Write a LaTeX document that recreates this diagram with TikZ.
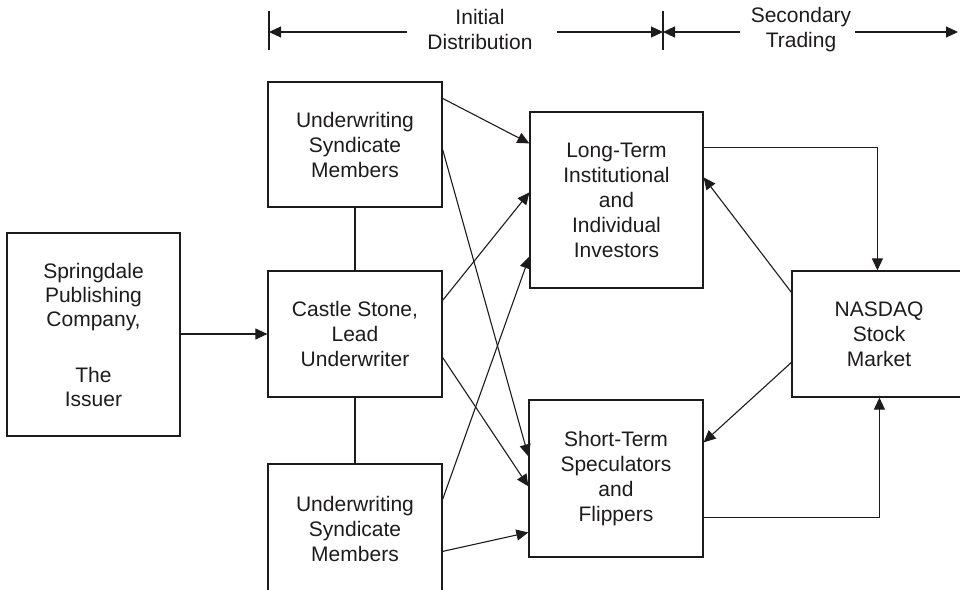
\documentclass[tikz,border=0pt]{standalone}
\usepackage{fontspec}
\setmainfont{Liberation Sans}
\usetikzlibrary{arrows.meta}
\definecolor{ink}{RGB}{30,27,28}
\begin{document}
\begin{tikzpicture}[x=1pt,y=-1pt,
  every node/.style={text=ink, align=center, font=\fontsize{21}{25}\selectfont},
  box/.style={draw=ink, line width=1.2pt, rectangle, inner sep=0pt},
  link/.style={draw=ink, line width=1.1pt},
  flow/.style={link, -{Triangle[length=12pt,width=11pt]}}]
\useasboundingbox (0,0) rectangle (960,589);
\clip (0,0) rectangle (960,589);

% phase markers across the top
\coordinate (barA1) at (269,11);
\coordinate (barA2) at (269,50);
\coordinate (barB1) at (663,11);
\coordinate (barB2) at (663,50);
\draw[link] (barA1) -- (barA2);
\draw[link] (barB1) -- (barB2);
\node (hd1) at (480,29.5) {Initial\\Distribution};
\node (hd2) at (801,29.5) {Secondary\\Trading};
\coordinate (h1l) at (407,32);
\coordinate (h1r) at (557,32);
\coordinate (h2l) at (740,32);
\coordinate (h2r) at (855,32);
\coordinate (h2end) at (958,32);
\draw[flow] (h1l) -- (barA1 |- h1l);
\draw[flow] (h1r) -- (barB1 |- h1r);
\draw[flow] (h2l) -- (barB1 |- h2l);
\draw[flow] (h2r) -- (h2end);

% boxes
\node[box, minimum width=173pt, minimum height=203pt, font=\fontsize{21}{24}\selectfont] (spr) at (93.5,334.5)
  {Springdale\\Publishing\\Company,\\[32pt]The\\Issuer};
\node[box, minimum width=174pt, minimum height=125pt] (tuw) at (355,144.5) {Underwriting\\Syndicate\\Members};
\node[box, minimum width=174pt, minimum height=126pt] (cas) at (355,334) {Castle Stone,\\Lead\\Underwriter};
\node[box, minimum width=174pt, minimum height=129pt] (buw) at (355,528.5) {Underwriting\\Syndicate\\Members};
\node[box, minimum width=173pt, minimum height=176pt] (lt) at (616.5,200) {Long-Term\\Institutional\\and\\Individual\\Investors};
\node[box, minimum width=174pt, minimum height=157pt] (st) at (616,478.5) {Short-Term\\Speculators\\and\\Flippers};
\node[box, minimum width=174pt, minimum height=126pt] (nas) at (879,334) {NASDAQ\\Stock\\Market};

% issuer to lead underwriter, and the syndicate ties
\draw[flow] (spr.east |- cas.west) -- (cas.west);
\draw[link] (tuw.south) -- (cas.north);
\draw[link] (cas.south) -- (buw.north);

% initial distribution
\draw[flow] ([yshift=-17pt]tuw.north east) -- ([yshift=-32pt]lt.north west);
\draw[flow] ([yshift=-68pt]tuw.north east) -- ([yshift=-57pt]st.north west);
\draw[flow] ([yshift=-30pt]cas.north east) -- ([yshift=-81pt]lt.north west);
\draw[flow] ([yshift=-87pt]cas.north east) -- ([yshift=-87pt]st.north west);
\draw[flow] ([yshift=-36pt]buw.north east) -- ([yshift=-145pt]lt.north west);
\draw[flow] ([yshift=-88pt]buw.north east) -- ([yshift=-133pt]st.north west);

% secondary trading
\draw[flow] ([yshift=-36pt]lt.north east) -| ([xshift=86pt]nas.north west);
\draw[flow] ([yshift=-118pt]st.north east) -| ([xshift=88pt]nas.south west);
\draw[flow] ([yshift=-22pt]nas.north west) -- ([yshift=-66pt]lt.north east);
\draw[flow] ([yshift=-92pt]nas.north west) -- ([yshift=-43pt]st.north east);
\end{tikzpicture}
\end{document}
